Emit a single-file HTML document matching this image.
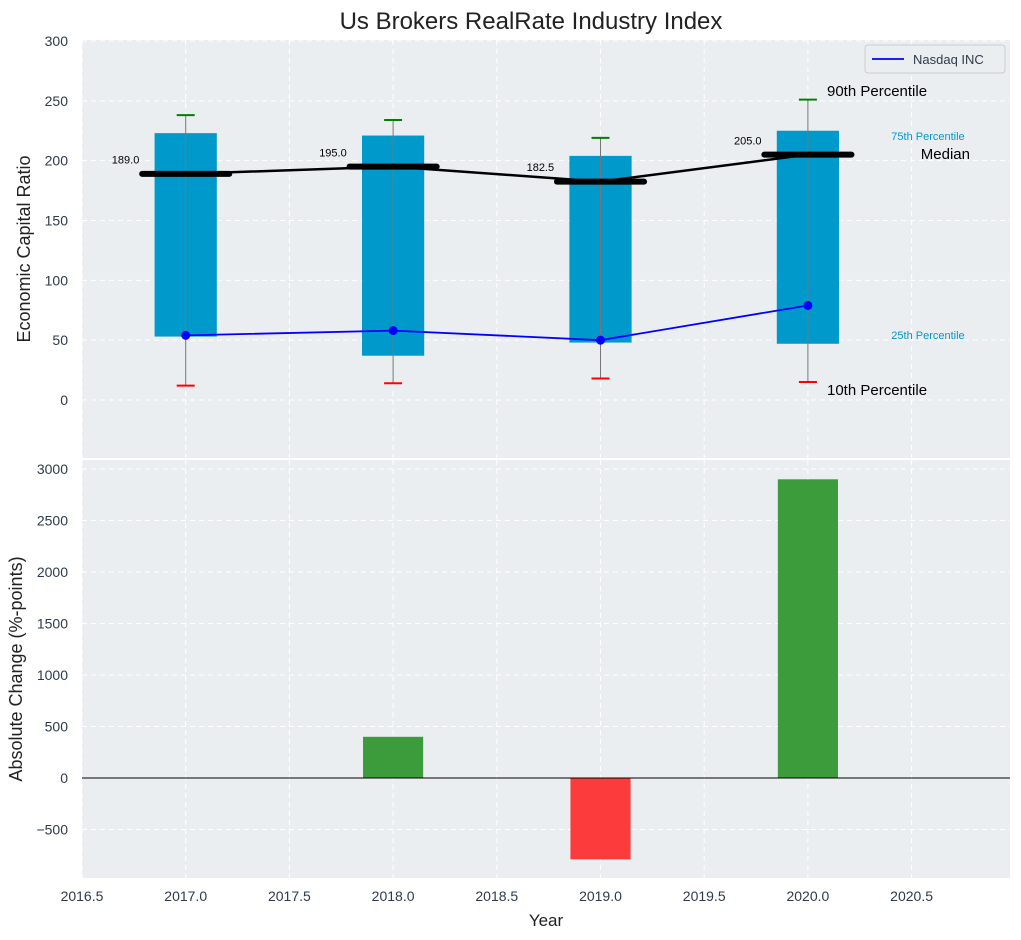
<!DOCTYPE html>
<html><head><meta charset="utf-8"><style>
body{margin:0;background:#fff;font-family:"Liberation Sans","DejaVu Sans",sans-serif}
svg{display:block}
</style></head><body>
<svg id="c" width="1021" height="940" xmlns="http://www.w3.org/2000/svg"></svg>
<script>
const years=[2017,2018,2019,2020];
const p10=[12,14,18,15];
const p25=[53,37,48,47];
const p75=[223,221,204,225];
const p90=[238,234,219,251];
const medians=[189,195,182.5,205];
const nasdaq=[54,58,50,79];
const changes=[0,400,-790,2900];
const topTicks=[0,50,100,150,200,250,300];
const botTicks=[-500,0,500,1000,1500,2000,2500,3000];
const xTicks=[2016.5,2017,2017.5,2018,2018.5,2019,2019.5,2020,2020.5];

const svg=document.getElementById('c');
const NS='http://www.w3.org/2000/svg';
function el(tag,attrs,parent){const e=document.createElementNS(NS,tag);for(const k in attrs)e.setAttribute(k,attrs[k]);(parent||svg).appendChild(e);return e;}
const L=82,R=1010;
const X=v=>L+(v-2016.5)*207.4;
const T0=40,T1=458, Y1=v=>400-v*1.1967;
const B0=460,B1=878, Y2=v=>778-v*0.103;
const TC='#2e3a4a';

let bg=el('rect',{x:L,y:T0,width:R-L,height:T1-T0,fill:'#eaeef0'});

let bg2=el('rect',{x:L,y:B0,width:R-L,height:B1-B0,fill:'#eaeef0'});


xTicks.forEach(t=>{
 el('line',{x1:X(t),x2:X(t),y1:T0,y2:T1,stroke:'#fff','stroke-dasharray':'5,4'});
 el('line',{x1:X(t),x2:X(t),y1:B0,y2:B1,stroke:'#fff','stroke-dasharray':'5,4'});
 const tx=el('text',{x:X(t),y:901,'font-size':14,fill:TC,'text-anchor':'middle'});tx.textContent=t.toFixed(1);
 
});
topTicks.forEach(t=>{
 el('line',{x1:L,x2:R,y1:Y1(t),y2:Y1(t),stroke:'#fff','stroke-dasharray':'5,4'});
 const tx=el('text',{x:68,y:Y1(t)+5,'font-size':14,fill:TC,'text-anchor':'end'});tx.textContent=t;
 
});
botTicks.forEach(t=>{
 el('line',{x1:L,x2:R,y1:Y2(t),y2:Y2(t),stroke:'#fff','stroke-dasharray':'5,4'});
 const tx=el('text',{x:68,y:Y2(t)+5,'font-size':14,fill:TC,'text-anchor':'end'});tx.textContent=t<0?'\u2212'+(-t):t;
 
});

years.forEach((y,i)=>{
 const b=el('rect',{x:X(y-0.15),y:Y1(p75[i]),width:X(y+0.15)-X(y-0.15),height:Y1(p25[i])-Y1(p75[i]),fill:'#0099cc'});
 
 el('line',{x1:X(y),x2:X(y),y1:Y1(p90[i]),y2:Y1(p10[i]),stroke:'#777','stroke-width':1});
 const c1=el('line',{x1:X(y)-9,x2:X(y)+9,y1:Y1(p90[i]),y2:Y1(p90[i]),stroke:'green','stroke-width':2});
 
 const c2=el('line',{x1:X(y)-9,x2:X(y)+9,y1:Y1(p10[i]),y2:Y1(p10[i]),stroke:'red','stroke-width':2});
 
});
const mpl=el('polyline',{points:years.map((y,i)=>X(y)+','+Y1(medians[i])).join(' '),fill:'none',stroke:'#000','stroke-width':2.5});

years.forEach((y,i)=>{
 const m=el('line',{x1:X(y-0.21),x2:X(y+0.21),y1:Y1(medians[i]),y2:Y1(medians[i]),stroke:'#000','stroke-width':6,'stroke-linecap':'round'});
 
 const t=el('text',{x:X(y-0.29),y:Y1(medians[i]+12)+4,'font-size':11,fill:'#000','text-anchor':'middle'});t.textContent=medians[i].toFixed(1);
 
});
const np=el('polyline',{points:years.map((y,i)=>X(y)+','+Y1(nasdaq[i])).join(' '),fill:'none',stroke:'blue','stroke-width':1.8});

years.forEach((y,i)=>{const c=el('circle',{cx:X(y),cy:Y1(nasdaq[i]),r:4.5,fill:'blue'});
 });

function txt(s,x,y,sz,col,anchor,name){const t=el('text',{x:x,y:y,'font-size':sz,fill:col,'text-anchor':anchor||'start'});t.textContent=s;
 return t;}
txt('90th Percentile',827,96,15,'#000','start','label-90th');
txt('75th Percentile',928,140,11,'#0099cc','middle','label-75th');
txt('Median',970,159,15,'#000','end','label-median');
txt('25th Percentile',928,339,11,'#0099cc','middle','label-25th');
txt('10th Percentile',827,395,15,'#000','start','label-10th');

const lg=el('g',{});
el('rect',{x:865,y:45,width:140,height:28,fill:'#eaeef0',stroke:'#ccc',rx:3},lg);
el('line',{x1:872,x2:904,y1:59,y2:59,stroke:'blue','stroke-width':1.8},lg);
const lt=el('text',{x:913,y:64,'font-size':13,fill:TC},lg);lt.textContent='Nasdaq INC';

years.forEach((y,i)=>{
 const v=changes[i];if(v===0)return;
 const r=el('rect',{x:X(y-0.145),y:Math.min(Y2(v),Y2(0)),width:X(y+0.145)-X(y-0.145),height:Math.abs(Y2(v)-Y2(0)),fill:v>0?'#3c9c3c':'#fc3c3c'});
 
});
el('line',{x1:L,x2:R,y1:Y2(0),y2:Y2(0),stroke:'#000','stroke-width':1});

txt('Us Brokers RealRate Industry Index',531,29,24,'#222','middle','chart-title');
txt('Year',546,926,17,'#222','middle','x-axis-title');
const ya=txt('Economic Capital Ratio',30,249,18,'#222','middle','top-y-axis-title');ya.setAttribute('transform','rotate(-90 30 249)');
const yb=txt('Absolute Change (%-points)',22,669,18,'#222','middle','bottom-y-axis-title');yb.setAttribute('transform','rotate(-90 22 669)');
</script>
</body></html>
